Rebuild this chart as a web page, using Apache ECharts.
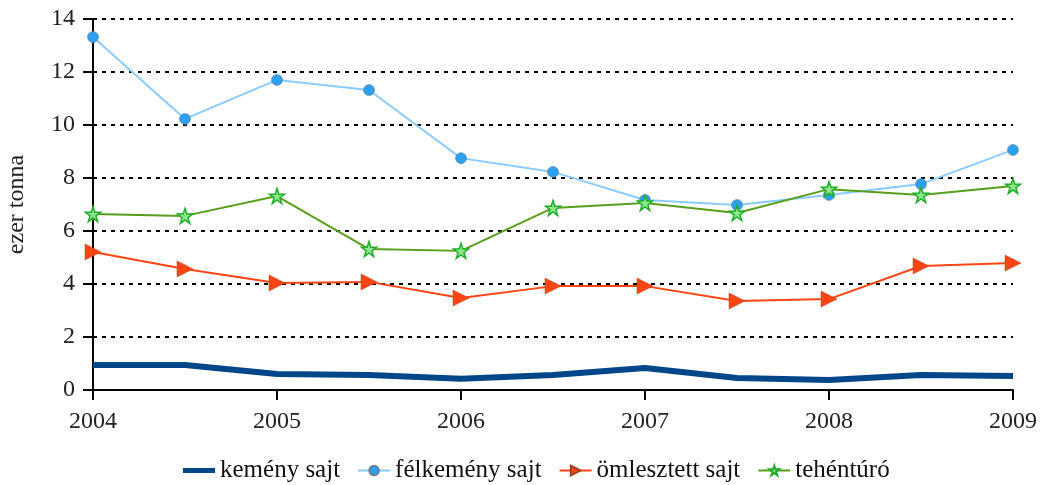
<!DOCTYPE html>
<html><head><meta charset="utf-8">
<script src="https://cdn.jsdelivr.net/npm/echarts@6/dist/echarts.min.js"></script>
<style>html,body{margin:0;padding:0;background:#fff}#c{width:1046px;height:485px}</style>
</head><body><div id="c"></div>
<script>
const xValues = [2004, 2004.5, 2005, 2005.5, 2006, 2006.5, 2007, 2007.5, 2008, 2008.5, 2009];
const kemeny = [0.94, 0.94, 0.60, 0.57, 0.42, 0.57, 0.83, 0.45, 0.38, 0.57, 0.53];
const felkemeny = [13.32, 10.23, 11.70, 11.32, 8.75, 8.23, 7.17, 6.98, 7.36, 7.77, 9.06];
const omlesztett = [5.21, 4.57, 4.04, 4.08, 3.47, 3.92, 3.92, 3.36, 3.43, 4.68, 4.79];
const tehenturo = [6.64, 6.57, 7.32, 5.32, 5.25, 6.87, 7.06, 6.68, 7.58, 7.36, 7.70];
const seriesNames = ['kemény sajt', 'félkemény sajt', 'ömlesztett sajt', 'tehéntúró'];
const yAxisName = 'ezer tonna';

const pair = arr => arr.map((v, i) => [xValues[i], v]);
const font = 'Liberation Serif';
const star = 'path://M50,0L61.8,35.3L99,35.3L69,57.6L80.3,92.7L50,71L19.7,92.7L31,57.6L1,35.3L38.2,35.3Z';

const chart = echarts.init(document.getElementById('c'));
chart.setOption({
  animation: false,
  textStyle: { fontFamily: font },
  grid: { left: 93, right: 33, top: 19, bottom: 95, containLabel: false, outerBoundsMode: 'none' },
  legend: {
    top: 453, left: 178, itemWidth: 32, itemHeight: 12, itemGap: 17,
    textStyle: { fontFamily: font, fontSize: 25, color: '#111' },
    data: [
      { name: seriesNames[0], icon: 'path://M0,0H32V5H0Z' },
      seriesNames[1], seriesNames[2], seriesNames[3]
    ]
  },
  xAxis: {
    type: 'value', min: 2004, max: 2009, interval: 1,
    axisLine: { lineStyle: { color: '#000', width: 2 } },
    axisTick: { show: true, length: 10, lineStyle: { color: '#000', width: 2 } },
    axisLabel: { fontFamily: font, fontSize: 24, color: '#222', margin: 20, formatter: v => String(v) },
    splitLine: { show: false }
  },
  yAxis: {
    type: 'value', min: 0, max: 14, interval: 2,
    name: yAxisName, nameLocation: 'middle', nameGap: 64,
    nameTextStyle: { fontFamily: font, fontSize: 24, color: '#222' },
    axisLine: { show: true, lineStyle: { color: '#000', width: 2 } },
    axisTick: { show: true, length: 10, lineStyle: { color: '#000', width: 2 } },
    axisLabel: { fontFamily: font, fontSize: 24, color: '#222', margin: 18 },
    splitLine: { show: true, lineStyle: { color: '#000', width: 2, type: [4, 5] } }
  },
  series: [
    { name: seriesNames[0], type: 'line', data: pair(kemeny), symbol: 'none',
      lineStyle: { color: '#00478a', width: 6 }, itemStyle: { color: '#00478a' } },
    { name: seriesNames[1], type: 'line', data: pair(felkemeny), symbol: 'circle', symbolSize: 11,
      lineStyle: { color: '#8ccbff', width: 2 },
      itemStyle: { color: '#2f9ff0', borderColor: '#6b7f92', borderWidth: 0.6 } },
    { name: seriesNames[2], type: 'line', data: pair(omlesztett), symbol: 'path://M0,0L10,5L0,10Z', symbolSize: [16, 16],
      lineStyle: { color: '#ff4514', width: 2 },
      itemStyle: { color: '#ff4514', borderColor: '#a0401a', borderWidth: 0.5 } },
    { name: seriesNames[3], type: 'line', data: pair(tehenturo), symbol: star, symbolSize: 15,
      lineStyle: { color: '#589e1c', width: 2 },
      itemStyle: { color: '#8ee88a', borderColor: '#1fae2a', borderWidth: 1.5 } }
  ]
});
</script></body></html>
